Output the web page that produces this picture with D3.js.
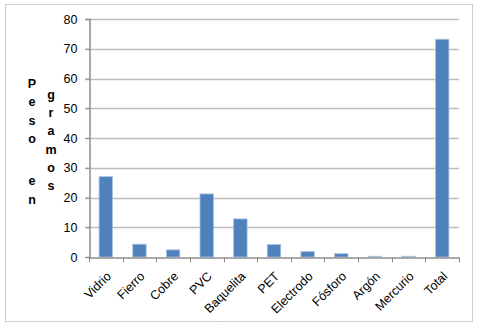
<!DOCTYPE html>
<html>
<head>
<meta charset="utf-8">
<script src="https://cdn.jsdelivr.net/npm/d3@7"></script>
<style>
  body { margin: 0; background: #fff; }
  text { font-family: "Liberation Sans", Arial, sans-serif; }
</style>
</head>
<body>
<div id="chart"></div>
<script>
var svgWidth = 480;
var svgHeight = 328;

// data
var categories = ["Vidrio", "Fierro", "Cobre", "PVC", "Baquelita", "PET",
  "Electrodo", "Fósforo", "Argón", "Mercurio", "Total"];
var pesos = [27.0, 4.3, 2.4, 21.2, 12.8, 4.2, 1.8, 1.1, 0.25, 0.25, 73.2];
var yTicks = [0, 10, 20, 30, 40, 50, 60, 70, 80];

var plot = { left: 89, right: 459, top: 19, bottom: 257 };

var svg = d3.select("#chart")
  .append("svg")
  .attr("width", svgWidth)
  .attr("height", svgHeight);

// chart area border (dotted)
svg.append("rect")
  .attr("x", 5.5)
  .attr("y", 4.5)
  .attr("width", 467)
  .attr("height", 317)
  .attr("fill", "#fff")
  .attr("stroke", "#9a9a9a")
  .attr("stroke-dasharray", "1,1");

var x = d3.scaleBand()
  .domain(categories)
  .range([plot.left, plot.right])
  .paddingInner(0.6)
  .paddingOuter(0.3);

var xEdges = d3.scaleBand()
  .domain(categories)
  .range([plot.left, plot.right]);

var y = d3.scaleLinear()
  .domain([0, 80])
  .range([plot.bottom, plot.top]);

// gridlines
svg.append("g")
  .selectAll("line")
  .data(yTicks.filter(d => d > 0))
  .enter()
  .append("line")
  .attr("x1", plot.left - 4)
  .attr("x2", plot.right)
  .attr("y1", d => Math.round(y(d)) + 0.5)
  .attr("y2", d => Math.round(y(d)) + 0.5)
  .attr("stroke", "#bdbdbd")
  .attr("stroke-width", 1.5);

// y axis
var leftAxis = d3.axisLeft(y)
  .tickValues(yTicks)
  .tickSize(4)
  .tickPadding(8);

var yAxis = svg.append("g")
  .attr("transform", `translate(${plot.left + 0.5}, 0)`)
  .call(leftAxis);
yAxis.select(".domain").attr("stroke", "#8c8c8c").attr("stroke-width", 1.5);
yAxis.selectAll(".tick line").attr("stroke", "#8c8c8c");
yAxis.selectAll(".tick text")
  .attr("font-size", 12.5)
  .attr("font-family", "Liberation Sans, Arial, sans-serif")
  .attr("fill", "#000");

// bars
svg.append("g")
  .selectAll("rect")
  .data(pesos)
  .enter()
  .append("rect")
  .attr("x", (d, i) => x(categories[i]))
  .attr("y", d => y(d))
  .attr("width", x.bandwidth())
  .attr("height", d => y(0) - y(d))
  .attr("fill", "#4f81bd")
  .attr("stroke", "#a9c0de")
  .attr("stroke-width", 0.8);

// x axis
var bottomAxis = d3.axisBottom(xEdges)
  .tickSize(0)
  .tickFormat("");

var xAxis = svg.append("g")
  .attr("transform", `translate(0, ${plot.bottom + 0.5})`)
  .call(bottomAxis);
xAxis.select(".domain").attr("stroke", "#8c8c8c").attr("stroke-width", 1.5);

// tick marks between categories
var edges = categories.map(c => xEdges(c)).concat([plot.right]);
xAxis.append("g")
  .selectAll("line")
  .data(edges)
  .enter()
  .append("line")
  .attr("x1", d => Math.round(d) + 0.5)
  .attr("x2", d => Math.round(d) + 0.5)
  .attr("y1", 0)
  .attr("y2", 5)
  .attr("stroke", "#8c8c8c");

// category labels rotated
svg.append("g")
  .selectAll("text")
  .data(categories)
  .enter()
  .append("text")
  .attr("transform", d => `translate(${xEdges(d) + xEdges.bandwidth() / 2 + 6}, 277) rotate(-45)`)
  .attr("text-anchor", "end")
  .attr("font-size", 12.5)
  .attr("fill", "#000")
  .text(d => d);

// stacked y-axis title "Peso en gramos"
var titleCol1 = ["P", "e", "s", "o", "", "e", "n"];
var titleCol2 = ["g", "r", "a", "m", "o", "s"];
var title = svg.append("g")
  .attr("font-size", 12.5)
  .attr("font-weight", "bold")
  .attr("fill", "#000")
  .attr("text-anchor", "middle");

title.append("text")
  .attr("x", 32)
  .attr("y", 88)
  .selectAll("tspan")
  .data(titleCol1)
  .enter()
  .append("tspan")
  .attr("x", 32)
  .attr("dy", (d, i) => i === 0 ? 0 : (i === 5 ? 24 : 18.3))
  .text(d => d === "" ? "\u00a0" : d);

title.append("text")
  .attr("x", 51)
  .attr("y", 99)
  .selectAll("tspan")
  .data(titleCol2)
  .enter()
  .append("tspan")
  .attr("x", 51)
  .attr("dy", (d, i) => i === 0 ? 0 : 18.2)
  .text(d => d);
</script>
</body>
</html>
